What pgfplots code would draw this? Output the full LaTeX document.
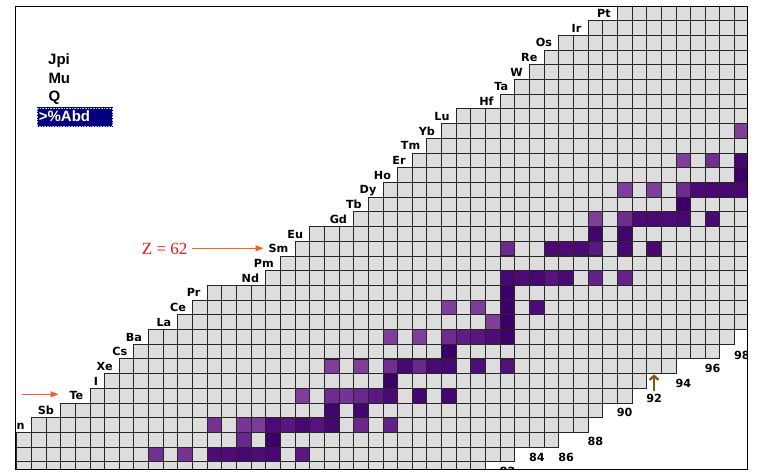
\documentclass[border=0pt]{standalone}
\usepackage{pgfplots}
\pgfplotsset{compat=1.18}
\usepackage{fontspec}
\setmainfont{DejaVu Sans}
\newfontfamily\menufont{Liberation Sans}
\newfontfamily\serifz{Liberation Serif}
\usetikzlibrary{arrows.meta}
\definecolor{cellgray}{RGB}{221,221,221}
\definecolor{navy}{RGB}{0,0,128}
\definecolor{zred}{RGB}{240,20,20}
\definecolor{arrorange}{RGB}{248,96,40}
\definecolor{arrbrown}{RGB}{140,80,15}
\tikzset{
  ellab/.style={anchor=base east, xshift=-6.5pt, yshift=-4.1pt, inner sep=0pt, font=\fontsize{11.2}{12}\selectfont\bfseries},
  nlab/.style={anchor=center, inner sep=0pt, font=\fontsize{11.2}{12}\selectfont\bfseries},
  menu/.style={anchor=base west, inner sep=0pt, font=\menufont\fontsize{15}{16}\selectfont\bfseries}
}
\begin{document}
\begin{tikzpicture}
\useasboundingbox (0pt,0pt) rectangle (762pt,474pt);
\begin{axis}[
  at={(15pt,5pt)}, anchor=south west,
  x=14.65pt, y=14.71pt,
  xmin=48.38, xmax=98.41, ymin=47.02, ymax=78.45,
  axis background/.style={fill=cellgray},
  xtick={47.5,48.5,...,99.5}, ytick={46.5,47.5,...,79.5},
  xticklabels={}, yticklabels={},
  major tick length=0pt,
  grid=major, grid style={draw=black!85, line width=0.95pt},
  axis line style={draw=none},
  clip marker paths=true,
  colormap={purp}{rgb255(0cm)=(128,62,155) rgb255(1.4cm)=(105,38,140) rgb255(1.7cm)=(80,12,122) rgb255(2.7cm)=(60,0,104)},
  point meta min=-0.7, point meta max=2,
]
% outside of the chart (top-left staircase)
\addplot[fill=white, draw=black!85, line width=0.95pt] coordinates {
(47,49.5) (49.5,49.5) (49.5,50.5) (51.5,50.5) (51.5,51.5) (53.5,51.5) (53.5,52.5)
(54.5,52.5) (54.5,53.5) (55.5,53.5) (55.5,54.5) (56.5,54.5) (56.5,55.5) (57.5,55.5)
(57.5,56.5) (59.5,56.5) (59.5,57.5) (60.5,57.5) (60.5,58.5) (61.5,58.5) (61.5,59.5)
(65.5,59.5) (65.5,60.5) (66.5,60.5) (66.5,61.5) (67.5,61.5) (67.5,62.5) (68.5,62.5)
(68.5,63.5) (71.5,63.5) (71.5,64.5) (72.5,64.5) (72.5,65.5) (73.5,65.5) (73.5,66.5)
(74.5,66.5) (74.5,67.5) (75.5,67.5) (75.5,68.5) (76.5,68.5) (76.5,69.5) (77.5,69.5)
(77.5,70.5) (78.5,70.5) (78.5,71.5) (81.5,71.5) (81.5,72.5) (82.5,72.5) (82.5,73.5)
(83.5,73.5) (83.5,74.5) (84.5,74.5) (84.5,75.5) (85.5,75.5) (85.5,76.5) (87.5,76.5)
(87.5,77.5) (89.5,77.5) (89.5,80) (47,80) (47,49.5)};
% outside of the chart (bottom-right staircase)
\addplot[fill=white, draw=black!85, line width=0.95pt] coordinates {
(80.5,45) (80.5,47.5) (82.5,47.5) (82.5,48.5) (85.5,48.5) (85.5,49.5) (87.5,49.5)
(87.5,50.5) (88.5,50.5) (88.5,51.5) (90.5,51.5) (90.5,52.5) (91.5,52.5) (91.5,53.5)
(93.5,53.5) (93.5,54.5) (96.5,54.5) (96.5,55.5) (97.5,55.5) (97.5,56.5) (100,56.5)
(100,45) (80.5,45)};
% stable isotopes, coloured by natural abundance (%)
\addplot[scatter, only marks, mark=square*, mark size=7.33pt,
  point meta={max(log10(\thisrow{a}),-0.7)},
  scatter/use mapped color={draw=black!85, fill=mapped color},
  mark options={line width=0.95pt}] table {
N Z a
60 47 51.84
62 47 48.16
58 48 1.25
60 48 0.89
62 48 12.49
63 48 12.80
64 48 24.13
65 48 12.22
66 48 28.73
68 48 7.49
64 49 4.29
66 49 95.71
62 50 0.97
64 50 0.66
65 50 0.34
66 50 14.54
67 50 7.68
68 50 24.22
69 50 8.59
70 50 32.58
72 50 4.63
74 50 5.79
70 51 57.21
72 51 42.79
68 52 0.09
70 52 2.55
71 52 0.89
72 52 4.74
73 52 7.07
74 52 18.84
76 52 31.74
78 52 34.08
74 53 100
70 54 0.095
72 54 0.089
74 54 1.91
75 54 26.4
76 54 4.07
77 54 21.2
78 54 26.9
80 54 10.4
82 54 8.9
78 55 100
74 56 0.106
76 56 0.101
78 56 2.42
79 56 6.59
80 56 7.85
81 56 11.23
82 56 71.7
81 57 0.09
82 57 99.91
78 58 0.185
80 58 0.251
82 58 88.45
84 58 11.11
82 59 100
82 60 27.2
83 60 12.2
84 60 23.8
85 60 8.3
86 60 17.2
88 60 5.7
90 60 5.6
82 62 3.07
85 62 14.99
86 62 11.24
87 62 13.82
88 62 7.38
90 62 26.75
92 62 22.75
88 63 47.8
90 63 52.2
88 64 0.2
90 64 2.18
91 64 14.8
92 64 20.47
93 64 15.65
94 64 24.84
96 64 21.86
94 65 100
90 66 0.056
92 66 0.095
94 66 2.33
95 66 18.9
96 66 25.5
97 66 24.9
98 66 28.3
98 67 100
94 68 0.14
96 68 1.6
98 68 33.5
98 70 0.13
};
% element labels
\coordinate (snlab) at (axis cs:49.5,50);
\coordinate (lab82) at (axis cs:82,46.86);
\node[ellab] at (axis cs:51.5,51) {Sb};
\node[ellab] at (axis cs:53.5,52) {Te};
\node[ellab] at (axis cs:54.5,53) {I};
\node[ellab] at (axis cs:55.5,54) {Xe};
\node[ellab] at (axis cs:56.5,55) {Cs};
\node[ellab] at (axis cs:57.5,56) {Ba};
\node[ellab] at (axis cs:59.5,57) {La};
\node[ellab] at (axis cs:60.5,58) {Ce};
\node[ellab] at (axis cs:61.5,59) {Pr};
\node[ellab] at (axis cs:65.5,60) {Nd};
\node[ellab] at (axis cs:66.5,61) {Pm};
\node[ellab] at (axis cs:67.5,62) {Sm};
\node[ellab] at (axis cs:68.5,63) {Eu};
\node[ellab] at (axis cs:71.5,64) {Gd};
\node[ellab] at (axis cs:72.5,65) {Tb};
\node[ellab] at (axis cs:73.5,66) {Dy};
\node[ellab] at (axis cs:74.5,67) {Ho};
\node[ellab] at (axis cs:75.5,68) {Er};
\node[ellab] at (axis cs:76.5,69) {Tm};
\node[ellab] at (axis cs:77.5,70) {Yb};
\node[ellab] at (axis cs:78.5,71) {Lu};
\node[ellab] at (axis cs:81.5,72) {Hf};
\node[ellab] at (axis cs:82.5,73) {Ta};
\node[ellab] at (axis cs:83.5,74) {W};
\node[ellab] at (axis cs:84.5,75) {Re};
\node[ellab] at (axis cs:85.5,76) {Os};
\node[ellab] at (axis cs:87.5,77) {Ir};
\node[ellab] at (axis cs:89.5,78) {Pt};
% neutron numbers
\node[nlab] at (axis cs:84,47.84) {84};
\node[nlab] at (axis cs:86,47.84) {86};
\node[nlab] at (axis cs:88,48.88) {88};
\node[nlab] at (axis cs:90,50.85) {90};
\node[nlab] at (axis cs:92,51.83) {92};
\node[nlab] at (axis cs:94,52.85) {94};
\node[nlab] at (axis cs:96,53.87) {96};
\node[nlab] at (axis cs:98,54.77) {98};
\draw[arrbrown, line width=2.2pt, -{Straight Barb[length=4pt,width=9pt]}] (axis cs:92,52.3) -- (axis cs:92,53.45);
\end{axis}
\begin{scope}
\clip (current axis.south west) rectangle (current axis.north east);
\node[ellab] at (snlab) {Sn};
\node[nlab] at (lab82) {82};
\end{scope}
\draw[black, line width=1pt] (current axis.south west) rectangle (current axis.north east);
% menu
\node[menu] at (48pt,409pt) {Jpi};
\node[menu] at (48.3pt,390pt) {Mu};
\node[menu] at (48.3pt,372pt) {Q};
\fill[navy] (36.7pt,347.3pt) rectangle (112.7pt,366.7pt);
\draw[white!60!gray, densely dotted, line width=0.6pt] (37.3pt,347.9pt) rectangle (112.1pt,366.1pt);
\node[menu, text=white] at (38.7pt,352.3pt) {>\%Abd};
% annotations
\node[anchor=base west, inner sep=0pt, text=zred, font=\serifz\fontsize{17}{17}\selectfont] at (141.7pt,219pt) {Z = 62};
\draw[arrorange, line width=1.2pt, -{Triangle[length=8pt,width=6pt]}] (191.7pt,225.7pt) -- (263.5pt,225.7pt);
\draw[arrorange, line width=1.2pt, -{Triangle[length=8pt,width=6pt]}] (21.7pt,79.7pt) -- (58.5pt,79.7pt);
\end{tikzpicture}
\end{document}
